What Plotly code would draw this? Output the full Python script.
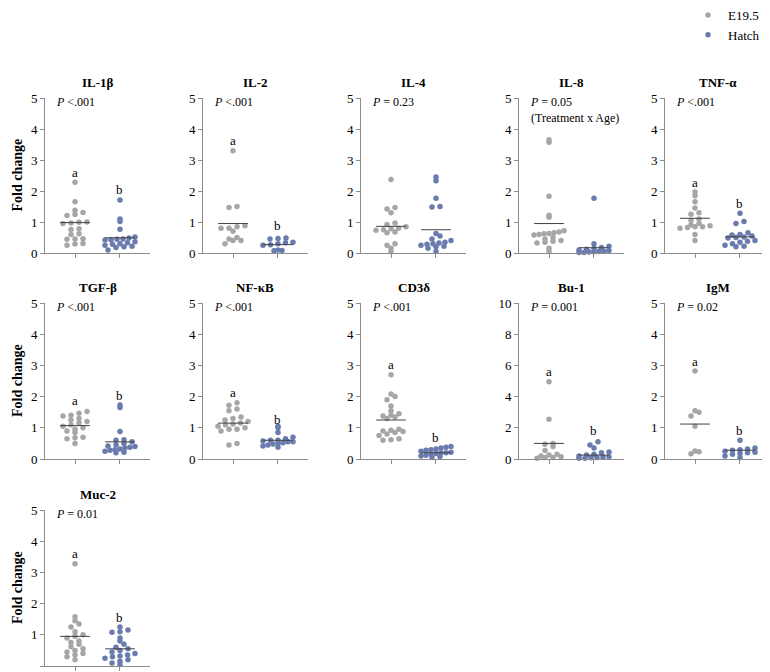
import plotly.graph_objects as go
import numpy as np

# Datos (fold change por gen, E19.5 vs Hatch)
GENES = ["IL-1β", "IL-2", "IL-4", "IL-8", "TNF-α", "TGF-β", "NF-κB", "CD3δ", "Bu-1", "IgM", "Muc-2"]
P_TEXT = ["<i>P</i> <.001", "<i>P</i> <.001", "<i>P</i> = 0.23", "<i>P</i> = 0.05<br>(Treatment x Age)",
          "<i>P</i> <.001", "<i>P</i> <.001", "<i>P</i> <.001", "<i>P</i> <.001", "<i>P</i> = 0.001",
          "<i>P</i> = 0.02", "<i>P</i> = 0.01"]
Y_MAX = [5, 5, 5, 5, 5, 5, 5, 5, 10, 5, 5]

e195_il1b = [2.28, 1.65, 1.38, 1.31, 1.24, 1.21, 1.00, 0.99, 0.97, 0.95, 0.78, 0.76, 0.62, 0.60, 0.46, 0.45, 0.44, 0.31, 0.29, 0.25]
hatch_il1b = [1.71, 1.10, 1.02, 0.77, 0.52, 0.48, 0.45, 0.44, 0.43, 0.42, 0.36, 0.33, 0.30, 0.28, 0.25, 0.22, 0.20, 0.18, 0.10]
e195_il2 = [3.30, 1.47, 1.50, 0.88, 0.85, 0.80, 0.80, 0.70, 0.50, 0.45, 0.40, 0.40, 0.30]
hatch_il2 = [0.48, 0.47, 0.45, 0.35, 0.33, 0.30, 0.27, 0.25, 0.10, 0.08, 0.07]
e195_il4 = [2.37, 1.47, 1.42, 1.30, 0.97, 0.92, 0.85, 0.80, 0.78, 0.75, 0.73, 0.68, 0.65, 0.30, 0.25, 0.15, 0.05]
hatch_il4 = [2.45, 2.33, 1.77, 1.50, 1.48, 0.63, 0.55, 0.45, 0.40, 0.35, 0.32, 0.30, 0.28, 0.25, 0.22, 0.20, 0.15, 0.05]
e195_il8 = [3.65, 3.57, 1.83, 1.22, 1.15, 0.72, 0.68, 0.65, 0.63, 0.62, 0.60, 0.58, 0.50, 0.45, 0.40, 0.38, 0.35, 0.32, 0.15, 0.05]
hatch_il8 = [1.77, 0.30, 0.22, 0.18, 0.15, 0.12, 0.10, 0.08, 0.06, 0.05, 0.04, 0.03, 0.02, 0.02]
e195_tnfa = [1.97, 1.85, 1.65, 1.45, 1.30, 1.25, 1.10, 1.05, 0.95, 0.90, 0.88, 0.85, 0.85, 0.82, 0.80, 0.60, 0.40]
hatch_tnfa = [1.28, 1.02, 0.95, 0.65, 0.60, 0.58, 0.55, 0.52, 0.50, 0.48, 0.40, 0.38, 0.35, 0.30, 0.25, 0.22, 0.20]
e195_tgfb = [1.52, 1.47, 1.40, 1.38, 1.30, 1.25, 1.20, 1.15, 1.10, 1.05, 1.00, 0.95, 0.90, 0.85, 0.70, 0.68, 0.65, 0.50]
hatch_tgfb = [1.73, 1.65, 0.88, 0.62, 0.60, 0.55, 0.50, 0.45, 0.42, 0.40, 0.38, 0.35, 0.32, 0.30, 0.28, 0.25, 0.22, 0.20]
e195_nfkb = [1.80, 1.72, 1.60, 1.55, 1.35, 1.30, 1.25, 1.20, 1.15, 1.12, 1.10, 1.05, 1.00, 0.95, 0.95, 0.90, 0.50, 0.45]
hatch_nfkb = [1.05, 1.00, 0.85, 0.70, 0.65, 0.60, 0.60, 0.58, 0.55, 0.55, 0.52, 0.50, 0.48, 0.45, 0.42, 0.38]
e195_cd3d = [2.70, 2.08, 2.00, 1.90, 1.70, 1.55, 1.45, 1.40, 1.38, 1.35, 1.30, 0.95, 0.92, 0.90, 0.88, 0.85, 0.80, 0.75, 0.65, 0.62, 0.60]
hatch_cd3d = [0.40, 0.38, 0.35, 0.32, 0.30, 0.28, 0.25, 0.22, 0.20, 0.20, 0.18, 0.15, 0.12, 0.10, 0.08, 0.05]
e195_bu1 = [4.95, 2.55, 1.00, 0.95, 0.80, 0.55, 0.30, 0.25, 0.20, 0.15, 0.10, 0.10, 0.05]
hatch_bu1 = [1.10, 0.90, 0.70, 0.45, 0.40, 0.30, 0.25, 0.20, 0.15, 0.12, 0.10, 0.08, 0.05, 0.05]
e195_igm = [2.82, 1.55, 1.50, 1.38, 1.05, 0.26, 0.23, 0.17]
hatch_igm = [0.60, 0.35, 0.32, 0.30, 0.28, 0.25, 0.22, 0.20, 0.18, 0.15, 0.10, 0.05]
e195_muc2 = [3.28, 1.58, 1.45, 1.35, 1.25, 1.10, 1.00, 0.95, 0.90, 0.80, 0.75, 0.70, 0.62, 0.55, 0.50, 0.45, 0.40, 0.35, 0.30, 0.20]
hatch_muc2 = [1.25, 1.15, 1.10, 1.08, 0.90, 0.80, 0.70, 0.60, 0.55, 0.50, 0.45, 0.40, 0.35, 0.32, 0.30, 0.25, 0.20, 0.15, 0.10, 0.05]

E195 = [e195_il1b, e195_il2, e195_il4, e195_il8, e195_tnfa, e195_tgfb, e195_nfkb, e195_cd3d, e195_bu1, e195_igm, e195_muc2]
HATCH = [hatch_il1b, hatch_il2, hatch_il4, hatch_il8, hatch_tnfa, hatch_tgfb, hatch_nfkb, hatch_cd3d, hatch_bu1, hatch_igm, hatch_muc2]

# Línea horizontal (media) de cada grupo
mean_e195 = [0.98, 0.95, 0.86, 0.95, 1.12, 1.07, 1.15, 1.25, 1.00, 1.12, 0.95]
mean_hatch = [0.49, 0.27, 0.75, 0.17, 0.52, 0.55, 0.60, 0.20, 0.25, 0.28, 0.55]

# Letras de significancia (None = sin letra)
letter_y_e195 = [2.60, 3.63, None, None, 2.26, 1.86, 2.12, 3.03, 5.63, 3.14, 3.62]
letter_y_hatch = [2.04, 0.88, None, None, 1.61, 2.05, 1.27, 0.68, 1.83, 0.90, 1.54]

GRIS = "#a6a6a6"
AZUL = "#6a7bae"
FONT = "Liberation Serif"
OFF = 8  # margen del <body> de la página
W, H = 770 - OFF, 672 - OFF

# posiciones de los paneles en píxeles de la ventana
COL_X = [45, 203, 361, 519, 665]
PANEL_W = 105
ROW_TOP = [98, 303, 510]
ROW_BOT = [253, 459, 666]
X_RANGE = [-0.667, 1.667]
PX_X = PANEL_W / (X_RANGE[1] - X_RANGE[0])


def px(x):
    return (x - OFF) / W


def py(y):
    return 1 - (y - OFF) / H


def swarm(values, px_per_unit_y, row_h=5.0, gap=8.0, max_w=30.0):
    """Desplazamiento tipo Prism: puntos de la misma fila repartidos simétricamente."""
    vals = np.asarray(values, dtype=float)
    rows = np.round(vals * px_per_unit_y / row_h).astype(int)
    offs = np.zeros(len(vals))
    for rr in np.unique(rows):
        idx = np.where(rows == rr)[0]
        idx = idx[np.argsort(vals[idx])]
        n = len(idx)
        if n == 1:
            continue
        step = min(gap, max_w / (n - 1))
        for j, ii in enumerate(idx):
            offs[ii] = (j - (n - 1) / 2) * step / PX_X
    return offs


fig = go.Figure()
annotations = []
shapes = []
layout_axes = {}

for i, gene in enumerate(GENES):
    r, c = divmod(i, 5)
    n = i + 1
    sfx = "" if n == 1 else str(n)
    left = COL_X[c]
    right = left + PANEL_W
    top, bot = ROW_TOP[r], ROW_BOT[r]
    ymax = Y_MAX[i]
    px_per_unit = (bot - top) / ymax

    for k, (vals, color, name) in enumerate([(E195[i], GRIS, "E19.5"), (HATCH[i], AZUL, "Hatch")]):
        fig.add_trace(go.Scatter(
            x=k + swarm(vals, px_per_unit),
            y=vals,
            mode="markers",
            marker=dict(size=5.5, color=color),
            name=name,
            legendgroup=name,
            showlegend=(i == 0),
            cliponaxis=False,
            xaxis="x" + sfx,
            yaxis="y" + sfx,
            hovertemplate=gene + " " + name + ": %{y:.2f}<extra></extra>",
        ))

    # líneas de media
    for k, m in enumerate([mean_e195[i], mean_hatch[i]]):
        shapes.append(dict(type="line", xref="x" + sfx, yref="y" + sfx,
                           x0=k - 0.33, x1=k + 0.33, y0=m, y1=m,
                           line=dict(color="#404040", width=1)))

    # letras
    for k, (ly, lt) in enumerate([(letter_y_e195[i], "a"), (letter_y_hatch[i], "b")]):
        if ly is not None:
            annotations.append(dict(x=k, y=ly, xref="x" + sfx, yref="y" + sfx, text=lt,
                                    xanchor="center", yanchor="middle",
                                    showarrow=False, font=dict(family=FONT, size=13, color="black")))

    # título del panel
    annotations.append(dict(x=px((left + right) / 2), y=py(top - 16), xref="paper", yref="paper",
                            text="<b>" + gene + "</b>", showarrow=False,
                            xanchor="center", yanchor="middle",
                            font=dict(family=FONT, size=13, color="black")))
    # texto P
    annotations.append(dict(x=px(left + 9), y=py(top - 5), xref="paper", yref="paper",
                            text=P_TEXT[i], showarrow=False, xanchor="left", yanchor="top", align="left",
                            font=dict(family=FONT, size=12, color="black")))

    layout_axes["xaxis" + sfx] = dict(
        domain=[px(left), px(right)], anchor="y" + sfx, range=X_RANGE,
        showline=True, linecolor="#8c8c8c", linewidth=1,
        tickvals=[0, 1], ticktext=["", ""], ticks="outside", ticklen=4, tickcolor="#8c8c8c",
        showgrid=False, zeroline=False, fixedrange=True,
    )
    layout_axes["yaxis" + sfx] = dict(
        domain=[py(bot), py(top)], anchor="x" + sfx, range=[0, ymax], dtick=ymax / 5,
        showline=True, linecolor="#8c8c8c", linewidth=1,
        ticks="outside", ticklen=4, tickcolor="#8c8c8c",
        tickfont=dict(family=FONT, size=13, color="black"),
        showgrid=False, zeroline=False, fixedrange=True,
    )

# etiqueta "Fold change" por fila
for r in range(3):
    annotations.append(dict(x=px(17), y=py((ROW_TOP[r] + ROW_BOT[r]) / 2), xref="paper", yref="paper",
                            text="<b>Fold change</b>", textangle=-90, showarrow=False,
                            xanchor="center", yanchor="middle",
                            font=dict(family=FONT, size=14, color="black")))

fig.update_layout(
    width=W, height=H,
    margin=dict(l=0, r=0, t=0, b=0, autoexpand=False),
    plot_bgcolor="white", paper_bgcolor="white",
    annotations=annotations,
    shapes=shapes,
    showlegend=True,
    legend=dict(x=px(688), y=py(0), xanchor="left", yanchor="top",
                font=dict(family=FONT, size=13, color="black"),
                itemsizing="trace", tracegroupgap=0, bgcolor="rgba(0,0,0,0)"),
    **layout_axes,
)

fig.write_html("out.html")
